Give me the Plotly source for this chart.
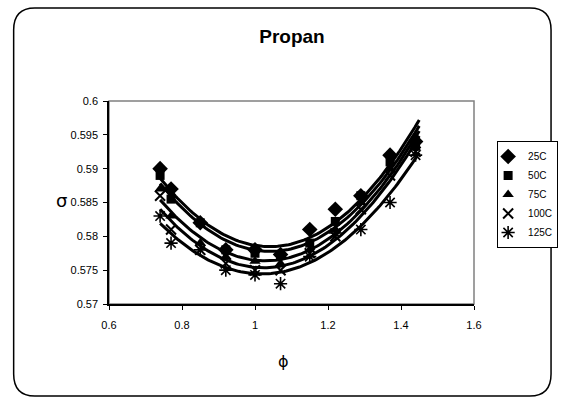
import numpy as np
import plotly.graph_objects as go

# ---- data ----
phi = [0.74, 0.77, 0.85, 0.92, 1.00, 1.07, 1.15, 1.22, 1.29, 1.37, 1.44]
s25 = [0.5900, 0.5870, 0.5820, 0.5780, 0.5780, 0.5773, 0.5810, 0.5840, 0.5860, 0.5920, 0.5940]
s50 = [0.5890, 0.5855, 0.5820, 0.5780, 0.5775, 0.5773, 0.5790, 0.5822, 0.5860, 0.5910, 0.5935]
s75 = [0.5870, 0.5830, 0.5790, 0.5770, 0.5763, 0.5760, 0.5780, 0.5810, 0.5850, 0.5900, 0.5930]
s100 = [0.5860, 0.5810, 0.5780, 0.5760, 0.5750, 0.5750, 0.5775, 0.5800, 0.5840, 0.5890, 0.5925]
s125 = [0.5830, 0.5790, 0.5780, 0.5750, 0.5743, 0.5730, 0.5770, 0.5805, 0.5810, 0.5850, 0.5920]
names = ["25C", "50C", "75C", "100C", "125C"]
x_ticks = [0.6, 0.8, 1.0, 1.2, 1.4, 1.6]
x_tick_text = ["0.6", "0.8", "1", "1.2", "1.4", "1.6"]
y_ticks = [0.57, 0.575, 0.58, 0.585, 0.59, 0.595, 0.6]
y_tick_text = ["0.57", "0.575", "0.58", "0.585", "0.59", "0.595", "0.6"]

series = [s25, s50, s75, s100, s125]
markers = [
    dict(symbol="diamond", size=12, color="black"),
    dict(symbol="square", size=9, color="black"),
    dict(symbol="triangle-up", size=10, color="black"),
    dict(symbol="x-thin-open", size=10, color="black", line=dict(width=2, color="black")),
    dict(symbol="asterisk-open", size=11, color="black", line=dict(width=1.6, color="black")),
]

FONT = "Liberation Sans, Arial, sans-serif"
W, H = 570, 399
L, R, T, B = 109, 82, 101, 95
PW, PH = W - L - R, H - T - B

fig = go.Figure()

# polynomial trendlines (order 2) like the spreadsheet's
xs = np.linspace(min(phi), max(phi) + 0.01, 120)
for vals in series:
    c = np.polyfit(phi, vals, 2)
    fig.add_trace(go.Scatter(x=xs, y=np.polyval(c, xs), mode="lines",
                             line=dict(color="black", width=3),
                             showlegend=False, hoverinfo="skip"))

for name, vals, mk in zip(names, series, markers):
    fig.add_trace(go.Scatter(x=phi, y=vals, mode="markers", name=name, marker=mk))


def px2x(px):
    return (px - L) / PW


def py2y(py):
    return (H - B - py) / PH


# outer rounded border
x0, x1, y0, y1, rr = 10, 568, 8, 396, 22
rx, ry = rr / PW, rr / PH
X0, X1, Y0, Y1 = px2x(x0), px2x(x1), py2y(y0), py2y(y1)
path = (f"M {X0+rx},{Y0} L {X1-rx},{Y0} Q {X1},{Y0} {X1},{Y0-ry} "
        f"L {X1},{Y1+ry} Q {X1},{Y1} {X1-rx},{Y1} "
        f"L {X0+rx},{Y1} Q {X0},{Y1} {X0},{Y1+ry} "
        f"L {X0},{Y0-ry} Q {X0},{Y0} {X0+rx},{Y0} Z")

shapes = [
    dict(type="path", xref="paper", yref="paper", path=path,
         line=dict(color="black", width=1.5), layer="below"),
    dict(type="rect", xref="paper", yref="paper", x0=0, x1=1, y0=0, y1=1,
         line=dict(color="#808080", width=1.5), layer="below"),
]

annotations = [
    dict(text="ϕ", x=px2x(290), y=py2y(373), xref="paper", yref="paper",
         showarrow=False, font=dict(family="DejaVu Sans, Arial", size=16, color="black")),
    dict(text="σ", x=px2x(52), y=py2y(200), xref="paper", yref="paper",
         showarrow=False, font=dict(family="DejaVu Sans, Arial", size=18, color="black")),
]

fig.update_layout(
    width=W, height=H,
    margin=dict(l=L, r=R, t=T, b=B),
    paper_bgcolor="white", plot_bgcolor="white",
    font=dict(family=FONT, size=11, color="black"),
    title=dict(text="<b>Propan</b>", x=292 / W, xanchor="center",
               y=1 - 36 / H, yanchor="middle",
               font=dict(family=FONT, size=19, color="black")),
    xaxis=dict(range=[0.6, 1.6], tickvals=x_ticks, ticktext=x_tick_text,
               showgrid=False, zeroline=False, showline=True, linecolor="black",
               linewidth=1.5, ticks="outside", ticklen=4, tickcolor="black",
               tickfont=dict(size=11), ticklabelstandoff=6),
    yaxis=dict(range=[0.57, 0.6], tickvals=y_ticks, ticktext=y_tick_text,
               showgrid=False, zeroline=False, showline=True, linecolor="black",
               linewidth=1.5, ticks="outside", ticklen=4, tickcolor="black",
               tickfont=dict(size=11), ticklabelstandoff=3),
    legend=dict(x=px2x(512), y=py2y(141), xanchor="left", yanchor="top",
                bordercolor="black", borderwidth=1, bgcolor="white",
                font=dict(family=FONT, size=10), itemwidth=30,
                indentation=-10, tracegroupgap=0),
    shapes=shapes,
    annotations=annotations,
)

fig.write_html("out.html")
